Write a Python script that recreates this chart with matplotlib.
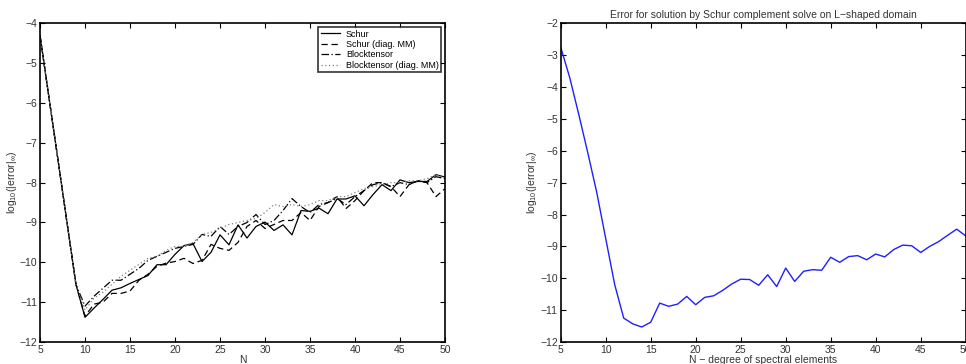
import matplotlib
matplotlib.use("Agg")
import matplotlib.pyplot as plt
import numpy as np

plt.rcParams['font.family'] = ['Liberation Sans', 'DejaVu Sans']
plt.rcParams['mathtext.fontset'] = 'custom'
plt.rcParams['mathtext.rm'] = 'Liberation Sans'
plt.rcParams['mathtext.it'] = 'Liberation Sans'

N = list(range(5, 51))

schur = [-4.30, -5.87, -7.43, -9.00, -10.56, -11.38, -11.15, -10.93, -10.70, -10.64,
         -10.53, -10.43, -10.33, -10.06, -10.06, -9.80, -9.58, -9.53, -9.98, -9.75,
         -9.31, -9.56, -9.06, -9.39, -9.10, -8.99, -9.20, -9.06, -9.31, -8.70,
         -8.72, -8.64, -8.78, -8.41, -8.41, -8.33, -8.58, -8.30, -8.05, -8.20,
         -7.93, -8.00, -7.97, -7.97, -7.80, -7.86]

schur_diag = [-4.30, -5.87, -7.43, -9.00, -10.56, -11.35, -11.05, -11.00, -10.78, -10.78,
              -10.72, -10.45, -10.30, -10.10, -10.02, -9.98, -9.90, -10.03, -9.95, -9.55,
              -9.65, -9.70, -9.50, -9.10, -8.95, -9.15, -9.05, -8.95, -8.95, -8.75,
              -8.95, -8.60, -8.50, -8.35, -8.65, -8.45, -8.20, -8.00, -8.00, -8.10,
              -8.35, -8.05, -7.95, -8.00, -8.35, -8.15]

block = [-4.30, -5.87, -7.43, -9.00, -10.56, -11.10, -10.85, -10.65, -10.45, -10.45,
         -10.30, -10.15, -9.95, -9.85, -9.75, -9.65, -9.60, -9.55, -9.30, -9.35,
         -9.10, -9.30, -9.10, -9.00, -8.80, -9.05, -8.95, -8.70, -8.40, -8.60,
         -8.75, -8.55, -8.50, -8.40, -8.55, -8.35, -8.20, -8.05, -8.00, -8.10,
         -8.00, -8.05, -7.95, -8.00, -7.85, -7.90]

block_diag = [-4.30, -5.87, -7.43, -9.00, -10.56, -11.20, -10.90, -10.75, -10.55, -10.35,
              -10.20, -10.05, -9.90, -9.85, -9.70, -9.60, -9.60, -9.50, -9.30, -9.25,
              -9.15, -9.05, -9.00, -8.95, -8.90, -8.75, -8.55, -8.60, -8.55, -8.60,
              -8.55, -8.45, -8.45, -8.35, -8.35, -8.25, -8.15, -8.10, -8.05, -8.00,
              -8.00, -7.95, -7.95, -7.90, -7.80, -7.90]

schur_L = [-2.75, -3.70, -4.85, -6.05, -7.30, -8.75, -10.20, -11.25, -11.43, -11.53,
           -11.38, -10.78, -10.88, -10.81, -10.57, -10.83, -10.60, -10.55, -10.38, -10.18,
           -10.03, -10.04, -10.22, -9.89, -10.26, -9.68, -10.10, -9.78, -9.73, -9.75,
           -9.34, -9.50, -9.32, -9.29, -9.42, -9.24, -9.33, -9.10, -8.96, -8.98,
           -9.19, -9.00, -8.85, -8.65, -8.46, -8.67]

left_labels = ['Schur', 'Schur (diag. MM)', 'Blocktensor', 'Blocktensor (diag. MM)']
right_title = 'Error for solution by Schur complement solve on L\u2212shaped domain'
ylabel = r'log$_{10}$(|error|$_{\infty}$)'

fig = plt.figure(figsize=(9.66, 3.64), dpi=100)
ax1 = fig.add_axes([40/966, 1-342/364, 405/966, (342-23.3)/364])
ax2 = fig.add_axes([560.7/966, 1-342/364, 405/966, (342-23.3)/364])

fs = 7.5
for ax in (ax1, ax2):
    ax.tick_params(direction='in', top=True, right=True, length=3.5, width=0.8,
                   labelsize=fs, pad=2, colors='black', labelcolor='#333333')
    for s in ax.spines.values():
        s.set_linewidth(1.2)
    ax.set_xlim(5, 50)
    ax.set_xticks(range(5, 51, 5))
    ax.yaxis.set_major_formatter(matplotlib.ticker.FuncFormatter(lambda v, p: f'{int(round(v))}'.replace('-', '\u2212')))

ax1.plot(N, schur, color='black', lw=0.9, ls='-', label=left_labels[0])
ax1.plot(N, schur_diag, color='black', lw=0.9, ls=(0, (5, 3)), label=left_labels[1])
ax1.plot(N, block, color='black', lw=0.9, ls=(0, (6, 2, 1, 2)), label=left_labels[2])
ax1.plot(N, block_diag, color='0.5', lw=0.9, ls=(0, (1, 2)), label=left_labels[3])
ax1.set_ylim(-12, -4)
ax1.set_yticks(range(-12, -3))
ax1.set_xlabel('N', fontsize=fs, labelpad=0, color='#333333')
ax1.set_ylabel(ylabel, fontsize=fs, labelpad=0, color='#333333')
leg = ax1.legend(loc='upper right', fontsize=6.5, frameon=True, fancybox=False,
                 borderpad=0.3, labelspacing=0.15, handlelength=2.2, handletextpad=0.6,
                 borderaxespad=0.4)
leg.get_frame().set_edgecolor('black')
leg.get_frame().set_linewidth(1.2)

ax2.plot(N, schur_L, color='#1f1fff', lw=1.0)
ax2.set_ylim(-12, -2)
ax2.set_yticks(range(-12, -1))
ax2.set_xlabel('N \u2212 degree of spectral elements', fontsize=fs, labelpad=0, color='#333333')
ax2.set_ylabel(ylabel, fontsize=fs, labelpad=1, color='#333333')
ax2.set_title(right_title, fontsize=fs, pad=4, color='#333333')

fig.savefig('out.png', dpi=100)
